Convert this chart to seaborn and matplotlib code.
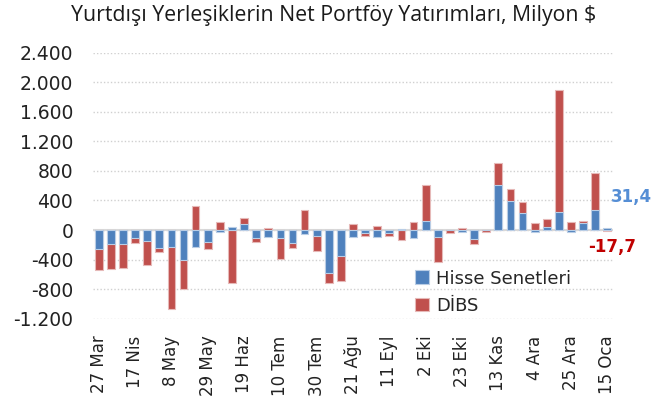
import numpy as np
import pandas as pd
import matplotlib.pyplot as plt
import seaborn as sns

# weekly flows, million $
hisse = [-262, -194, -194, -113, -154, -244, -226, -407, -226, -158,
         -23, 36, 77, -113, -90, -113, -181, -59, -77, -579,
         -348, -90, -41, -90, -45, 14, -108, 122, -90, -5,
         -23, -127, -5, 606, 389, 226, -23, 41, 240, -23,
         90, 276, 31.4]
dibs = [-280, -334, -316, -63, -325, -50, -836, -384, 325, -99,
        104, -723, 81, -45, 27, -280, -63, 271, -212, -131,
        -344, 77, -36, 59, -32, -140, 104, 488, -348, -30,
        27, -63, -25, 303, 167, 149, 90, 104, 1650, 104,
        27, 497, -17.7]
tick_labels = ["27 Mar", "17 Nis", "8 May", "29 May", "19 Haz", "10 Tem",
               "30 Tem", "21 Ağu", "11 Eyl", "2 Eki", "23 Eki", "13 Kas",
               "4 Ara", "25 Ara", "15 Oca"]

df = pd.DataFrame({"hafta": np.arange(len(hisse)), "Hisse": hisse, "DIBS": dibs})
# stacked like excel: red sits on top of blue when both have the same sign
same = np.sign(df["Hisse"]) == np.sign(df["DIBS"])
df["DIBS_top"] = np.where(same, df["Hisse"] + df["DIBS"], df["DIBS"])

sns.set_theme(style="white")
plt.rcParams["font.family"] = ["DejaVu Sans"]

blue = "#4F81BD"
red = "#C0504D"

fig = plt.figure(figsize=(6.55, 4.05), dpi=100)
ax = fig.add_axes([0.1415, 0.213, 0.795, 0.657])

sns.barplot(data=df, x="hafta", y="DIBS_top", color=red, saturation=1,
            width=0.64, edgecolor="#E6B9B8", linewidth=0.8, ax=ax,
            label="DİBS", zorder=2)
sns.barplot(data=df, x="hafta", y="Hisse", color=blue, saturation=1,
            width=0.64, edgecolor="#B9CDE5", linewidth=0.8, ax=ax,
            label="Hisse Senetleri", zorder=3)

ax.set_ylim(-1200, 2400)
ax.set_xlim(-0.5, len(hisse) - 0.5)
yt = np.arange(-1200, 2401, 400)
ax.set_yticks(yt)
ax.set_yticklabels([f"{v:,.0f}".replace(",", ".") for v in yt], fontsize=13.5, color="#222222")
ax.set_xticks(np.arange(0, len(hisse), 3))
ax.set_xticklabels(tick_labels, rotation=90, fontsize=12, color="#222222")
ax.tick_params(axis="both", length=0)
ax.tick_params(axis="x", pad=12)
ax.tick_params(axis="y", pad=14)
ax.set_xlabel("")
ax.set_ylabel("")
for s in ax.spines.values():
    s.set_visible(False)
ax.yaxis.grid(True, linestyle=(0, (1, 1.5)), color="#D0D0D0", linewidth=1, zorder=0)
ax.set_axisbelow(True)
ax.axhline(0, color="#D9D9D9", linewidth=1.5, zorder=1)

ax.text(42.3, 450, "31,4", color="#558ED5", fontsize=12, fontweight="bold",
        ha="left", va="center", clip_on=False)
ax.text(44.4, -230, "-17,7", color="#C00000", fontsize=12, fontweight="bold",
        ha="right", va="center", clip_on=False)

handles, labels = ax.get_legend_handles_labels()
order = [labels.index("Hisse Senetleri"), labels.index("DİBS")]
ax.legend([handles[i] for i in order], [labels[i] for i in order],
          loc="upper left", bbox_to_anchor=(0.622, 0.352), bbox_transform=fig.transFigure,
          frameon=False, fontsize=13, handlelength=0.8, handleheight=0.8,
          handletextpad=0.4, labelspacing=0.5, borderaxespad=0)

fig.text(0.51, 0.962, "Yurtdışı Yerleşiklerin Net Portföy Yatırımları, Milyon $",
         ha="center", va="center", fontsize=15.3, color="#1a1a1a",
         family=["Open Sans"])

fig.savefig("out.png", dpi=100)
plt.close()
